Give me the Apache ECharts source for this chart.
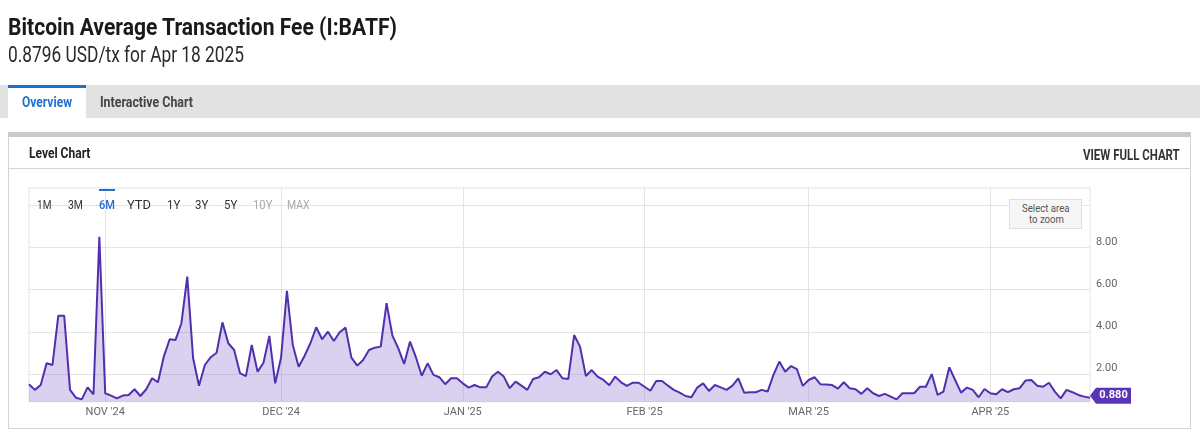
<!DOCTYPE html>
<html>
<head>
<meta charset="utf-8">
<script src="https://cdn.jsdelivr.net/npm/echarts@6/dist/echarts.min.js"></script>
<style>
  html, body { margin:0; padding:0; background:#fff; width:1200px; height:434px; overflow:hidden; font-family: Roboto, "Noto Sans", sans-serif; }
  .abs { position:absolute; white-space:nowrap; }
  .t { position:absolute; white-space:nowrap; transform-origin: 0 50%; }
  #chart { position:absolute; left:0; top:0; width:1200px; height:434px; z-index:2; }
  .ov { z-index:3; }
</style>
</head>
<body>
<!-- page chrome -->
<div class="abs" style="left:0;top:85px;width:1200px;height:33px;background:#e2e2e2;z-index:1"></div>
<div class="abs" style="left:8px;top:85px;width:78px;height:33px;background:#fff;border-top:3px solid #1e6fd0;box-sizing:border-box;z-index:1"></div>
<div class="abs" style="left:7.5px;top:132px;width:1183px;height:297px;border:1px solid #d4d4d4;border-top:5px solid #cacaca;box-sizing:border-box;z-index:1"></div>
<div class="abs" style="left:8px;top:168px;width:1182px;height:1px;background:#d4d4d4;z-index:1"></div>

<div class="t ov" data-w="389" style="left:8px;top:15px;font-size:24px;line-height:24px;font-weight:700;color:#1a1a1a">Bitcoin Average Transaction Fee (I:BATF)</div>
<div class="t ov" data-w="236" style="left:8px;top:44px;font-size:22px;line-height:22px;font-weight:400;color:#2b2b2b">0.8796 USD/tx for Apr 18 2025</div>

<div class="t ov" data-w="50" style="left:21.7px;top:95px;font-size:14px;line-height:14px;font-weight:700;color:#1e6fd0">Overview</div>
<div class="t ov" data-w="93" style="left:100px;top:95px;font-size:14px;line-height:14px;font-weight:700;color:#444">Interactive Chart</div>

<div class="t ov" data-w="61.4" style="left:29.3px;top:145.7px;font-size:15px;line-height:15px;font-weight:700;color:#222">Level Chart</div>
<div class="t ov" data-w="96.7" style="left:1083.3px;top:147.5px;font-size:14px;line-height:14px;font-weight:700;color:#333">VIEW FULL CHART</div>

<!-- range selector -->
<div class="abs ov" style="left:99.3px;top:188.5px;width:16px;height:2.5px;background:#1e6fd0"></div>
<div class="t ov" data-w="14.4" style="left:37.3px;top:199.2px;font-size:12px;line-height:12px;color:#333">1M</div>
<div class="t ov" data-w="15" style="left:68.3px;top:199.2px;font-size:12px;line-height:12px;color:#333">3M</div>
<div class="t ov" data-w="16" style="left:99.3px;top:199.2px;font-size:12px;line-height:12px;color:#1e6fd0;font-weight:500">6M</div>
<div class="t ov" data-w="24" style="left:126.7px;top:199.2px;font-size:12px;line-height:12px;color:#333">YTD</div>
<div class="t ov" data-w="13.3" style="left:166.7px;top:199.2px;font-size:12px;line-height:12px;color:#333">1Y</div>
<div class="t ov" data-w="13.3" style="left:195px;top:199.2px;font-size:12px;line-height:12px;color:#333">3Y</div>
<div class="t ov" data-w="13.3" style="left:224px;top:199.2px;font-size:12px;line-height:12px;color:#333">5Y</div>
<div class="t ov" data-w="19.4" style="left:253.3px;top:199.2px;font-size:12px;line-height:12px;color:#aaa">10Y</div>
<div class="t ov" data-w="22.7" style="left:287.3px;top:199.2px;font-size:12px;line-height:12px;color:#aaa">MAX</div>

<!-- zoom hint -->
<div class="abs ov" style="left:1009px;top:199px;width:73px;height:30px;background:#f6f6f6;border:1px solid #dedede;box-sizing:border-box"></div>
<div class="t ov" data-w="47.6" style="left:1021.7px;top:203.4px;font-size:11px;line-height:11px;color:#555;z-index:4">Select area</div>
<div class="t ov" data-w="35" style="left:1029px;top:214px;font-size:11px;line-height:11px;color:#555;z-index:4">to zoom</div>

<div id="chart"></div>

<script>
// ---- data (USD per transaction, daily, Oct 19 2024 .. Apr 18 2025) ----
const startDate = [2024, 9, 19]; // year, monthIndex, day
const octValues = [1.52, 1.25, 1.48, 2.51, 2.43, 4.77, 4.77, 1.25, 0.88, 0.80, 1.37, 1.04, 8.51];
const novValues = [1.09, 0.98, 0.85, 0.98, 1.01, 1.28, 0.96, 1.28, 1.80, 1.61, 2.83, 3.65, 3.62, 4.41, 6.62,
                   2.75, 1.45, 2.43, 2.80, 3.01, 4.45, 3.46, 3.14, 2.04, 1.90, 3.38, 2.11, 2.54, 3.81, 1.56];
const decValues = [2.78, 5.95, 3.38, 2.35, 2.86, 3.46, 4.22, 3.65, 4.01, 3.57, 3.98, 4.20, 2.78, 2.40, 2.67, 3.14,
                   3.25, 3.30, 5.36, 3.82, 3.22, 2.48, 3.54, 2.80, 1.92, 2.51, 1.96, 1.85, 1.52, 1.80, 1.80];
const janValues = [1.56, 1.36, 1.48, 1.37, 1.37, 1.88, 2.11, 1.88, 1.33, 1.64, 1.45, 1.25, 1.77, 1.85, 2.11, 1.99,
                   2.19, 1.80, 1.77, 3.85, 3.30, 1.91, 2.19, 1.88, 1.72, 1.47, 1.88, 1.61, 1.44, 1.59, 1.59];
const febValues = [1.40, 1.21, 1.67, 1.67, 1.45, 1.25, 1.12, 0.96, 0.90, 1.36, 1.56, 1.20, 1.48, 1.37, 1.25, 1.45,
                   1.80, 1.12, 1.14, 1.14, 1.25, 1.17, 1.96, 2.59, 2.11, 2.38, 2.23, 1.44];
const marValues = [1.72, 1.85, 1.52, 1.50, 1.48, 1.31, 1.61, 1.33, 1.28, 1.06, 1.33, 1.09, 0.96, 1.06, 0.93, 0.80,
                   1.09, 1.09, 1.09, 1.40, 1.40, 2.00, 1.01, 1.17, 2.32, 1.72, 1.12, 1.36, 1.25, 0.90, 1.29];
const aprValues = [1.09, 1.04, 1.28, 1.14, 1.28, 1.33, 1.69, 1.72, 1.45, 1.40, 1.59, 1.17, 0.85, 1.25, 1.14, 1.01,
                   0.93, 0.8796];
const yLabelValues = [2, 4, 6, 8];
const yGridValues = [2, 4, 6, 8, 10];
const monthNames = ['JAN','FEB','MAR','APR','MAY','JUN','JUL','AUG','SEP','OCT','NOV','DEC'];

const values = [].concat(octValues, novValues, decValues, janValues, febValues, marValues, aprValues);
const dates = values.map(function (_, i) {
  return new Date(Date.UTC(startDate[0], startDate[1], startDate[2] + i)).toISOString().slice(0, 10);
});
const lastIdx = values.length - 1;

function isMonthStart(i, v) { return String(v).slice(8) === '01'; }
function monthLabel(v) {
  const s = String(v);
  return monthNames[parseInt(s.slice(5, 7), 10) - 1] + " '" + s.slice(2, 4);
}

const chart = echarts.init(document.getElementById('chart'), null, { renderer: 'canvas' });
chart.setOption({
  animation: false,
  backgroundColor: 'transparent',
  textStyle: { fontFamily: 'Roboto' },
  grid: {
    left: 29, right: 110, top: 188, bottom: 32.3,
    show: true, borderColor: '#e4e4e4', borderWidth: 1,
    containLabel: false, outerBoundsMode: 'none'
  },
  xAxis: {
    type: 'category',
    data: dates,
    boundaryGap: false,
    axisLine: { show: false },
    axisTick: { show: false },
    axisLabel: {
      interval: isMonthStart,
      formatter: monthLabel,
      color: '#666', fontSize: 11, margin: 5, fontFamily: 'Roboto'
    },
    splitLine: { show: true, interval: isMonthStart, lineStyle: { color: '#e4e4e4', width: 1 } }
  },
  yAxis: {
    type: 'value',
    position: 'right',
    min: 0.69, max: 10.82,
    axisLine: { show: false },
    axisTick: { show: false, customValues: yGridValues },
    axisLabel: {
      customValues: yLabelValues,
      formatter: function (v) { return Number(v).toFixed(2); },
      color: '#666', fontSize: 11, margin: 6, verticalAlign: 'bottom', fontFamily: 'Roboto'
    },
    splitLine: { show: true, lineStyle: { color: '#e4e4e4', width: 1 } }
  },
  series: [{
    type: 'line',
    data: values,
    symbol: 'none',
    smooth: false,
    lineStyle: { color: '#5030ad', width: 2 },
    areaStyle: { color: 'rgba(130, 98, 205, 0.42)', origin: 'start' },
    markPoint: {
      silent: true,
      symbol: 'path://M0,8L6,0L41,0L41,16L6,16Z',
      symbolSize: [41, 16],
      symbolKeepAspect: false,
      symbolOffset: [20.5, -2],
      itemStyle: { color: '#5a34b8' },
      label: {
        show: true, position: 'inside', offset: [3, 0],
        color: '#fff', fontWeight: 'bold', fontSize: 11, fontFamily: 'Roboto',
        formatter: function (p) { return Number(p.value).toFixed(3); }
      },
      data: [{ coord: [dates[lastIdx], values[lastIdx]], value: values[lastIdx] }]
    }
  }]
});

function fitTexts() {
  document.querySelectorAll('[data-w]').forEach(function (el) {
    el.style.transform = 'none';
    const w = el.getBoundingClientRect().width;
    const target = parseFloat(el.getAttribute('data-w'));
    if (w > 0) el.style.transform = 'scaleX(' + (target / w) + ')';
  });
}
fitTexts();
if (document.fonts && document.fonts.ready) document.fonts.ready.then(fitTexts);
</script>
</body>
</html>
